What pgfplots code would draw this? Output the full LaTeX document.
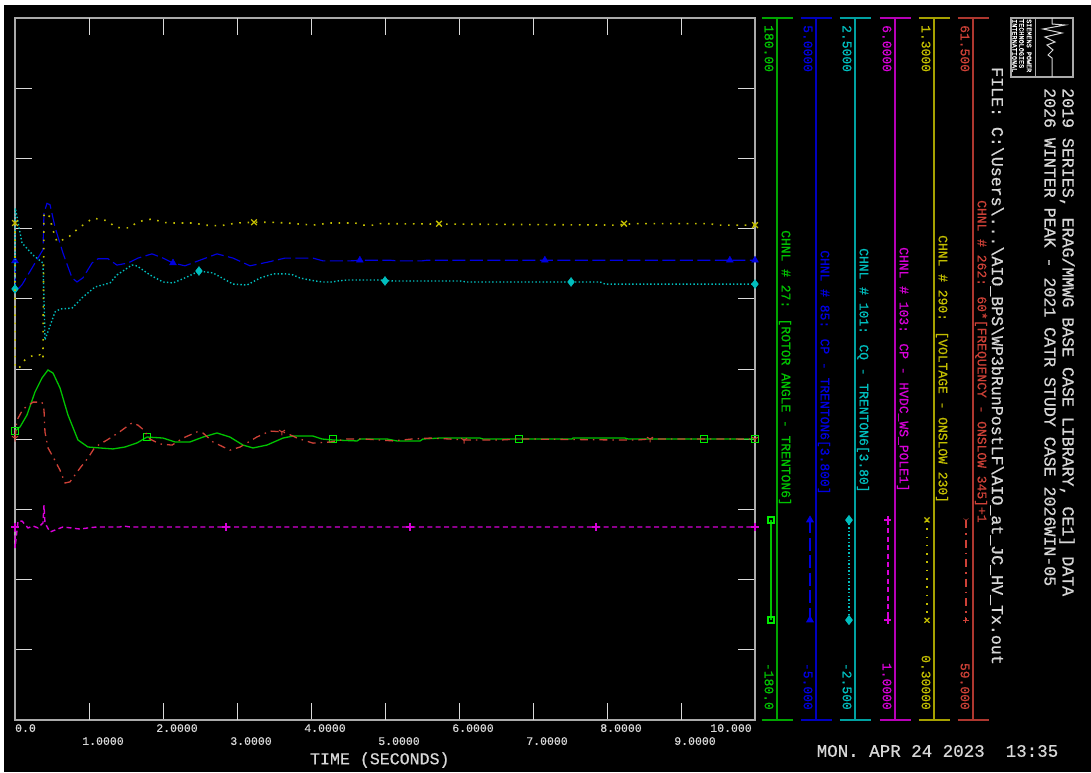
\documentclass[border=0pt]{standalone}
\usepackage{fontspec}
\setmainfont{Liberation Mono}[FakeBold=0.7]
\usepackage{pgfplots}
\pgfplotsset{compat=1.18}
\usetikzlibrary{plotmarks}
\definecolor{gry}{RGB}{170,170,170}
\definecolor{txt}{RGB}{215,215,215}
\definecolor{cgreen}{RGB}{0,195,0}
\definecolor{cbright}{RGB}{0,235,0}
\definecolor{cblue}{RGB}{0,0,225}
\definecolor{ccyan}{RGB}{0,190,190}
\definecolor{cmag}{RGB}{215,0,215}
\definecolor{cyel}{RGB}{195,190,0}
\definecolor{cred}{RGB}{205,65,55}
\pgfplotsset{
  chan/.style={at={(15pt,52pt)},anchor=south west,width=740pt,height=702pt,scale only axis,
    xmin=0,xmax=10,clip=false},
  over/.style={chan,hide axis},
}
\begin{document}
\begin{tikzpicture}[x=1pt,y=1pt]
\useasboundingbox (0,0) rectangle (1091,772);
\fill[white] (0,0) rectangle (1091,772);
\fill[black] (4,0) rectangle (1091,767);

% ---- rotor angle, and the frame of the plot
\begin{axis}[chan,ymin=-180,ymax=180,
  axis line style={gry,line width=1.4pt},
  tick align=inside,
  major tick length=17pt,
  tick style={white!85!black,line width=1pt},
  ytick={-144,-108,-72,-36,0,36,72,108,144},yticklabels={},
  xtick={0,2,4,6,8,10},
  xticklabels={\makebox[0pt]{\hspace*{-7pt}0.0},2.0000,4.0000,6.0000,8.0000,\makebox[0pt]{\hspace*{-76pt}10.000}},
  extra x ticks={1,3,5,7,9},
  extra x tick labels={1.0000,3.0000,5.0000,7.0000,9.0000},
  extra x tick style={xticklabel style={yshift=-13pt}},
  xticklabel style={anchor=north,inner sep=0pt,xshift=14pt,yshift=-4pt,font=\fontsize{11.5}{12}\selectfont,text=txt},
  xlabel={TIME (SECONDS)},
  xlabel style={at={(axis description cs:0.493,-0.057)},anchor=center,inner sep=0pt,font=\fontsize{16.6}{18}\selectfont,text=txt},
]
\addplot[cgreen,line width=1.3pt] coordinates {
(0,-31.8)(.068,-29.7)(.162,-23.6)(.27,-11.8)(.365,-4.6)(.446,-0.5)(.514,-2.1)(.608,-9.7)(.716,-23.6)(.851,-36.4)
(.986,-40)(1.149,-40.5)(1.324,-41)(1.486,-40)(1.649,-37.9)(1.784,-34.9)(2.0,-35.4)(2.162,-37.4)(2.365,-37.4)
(2.541,-34.9)(2.73,-32.8)(2.905,-34.9)(3.081,-39)(3.216,-40.5)(3.405,-39)(3.622,-35.4)(3.757,-34.4)(4.027,-34.4)
(4.149,-35.9)(4.297,-36.4)(4.622,-36.9)(4.662,-35.9)(5.027,-35.9)(5.162,-36.9)(5.473,-36.9)(5.514,-35.9)
(5.743,-35.4)(6.284,-35.4)(6.324,-35.9)(7.527,-35.9)(7.541,-35.4)(8.243,-35.4)(8.284,-35.9)(10,-35.9)};
\addplot[cbright,only marks,mark=square,mark size=3.2pt,line width=1.2pt] coordinates {
(0,-31.8)(1.784,-34.9)(4.297,-35.9)(6.811,-35.9)(9.311,-35.9)(10,-35.9)};
\addplot[cgreen,line width=1.3pt,mark=square,mark size=3pt,mark options={cbright,line width=1.2pt}] coordinates {(10.216,-77.4)(10.216,-128.7)};
\end{axis}

% ---- active power, Trenton
\begin{axis}[over,ymin=-5,ymax=5]
\addplot[cblue,line width=1.15pt,dash pattern=on 13pt off 4.5pt] coordinates {
(0,1.54)(.007,1.10)(.095,1.20)(.378,1.70)(.392,2.22)(.432,2.36)(.473,2.34)(.541,2.02)(.649,1.65)(.770,1.30)
(.838,1.24)(.919,1.30)(1.041,1.51)(1.122,1.57)(1.257,1.57)(1.378,1.48)(1.527,1.51)(1.662,1.58)(1.851,1.64)
(2.0,1.58)(2.135,1.51)(2.297,1.47)(2.5,1.55)(2.73,1.64)(2.946,1.58)(3.176,1.47)(3.405,1.52)(3.649,1.58)
(4.027,1.58)(4.162,1.54)(4.527,1.54)(4.703,1.55)(5.068,1.55)(5.162,1.54)(5.5,1.54)(5.568,1.55)(10,1.55)};
\addplot[cblue,only marks,mark=triangle*,mark size=4pt] coordinates {
(0,1.54)(2.135,1.51)(4.66,1.55)(7.16,1.55)(9.66,1.55)(10,1.55)};
\addplot[cblue,line width=1.15pt,dash pattern=on 13pt off 4.5pt,mark=triangle*,mark size=3.5pt,mark options={solid}] coordinates {(10.743,-2.151)(10.743,-3.576)};
\end{axis}

% ---- reactive power, Trenton
\begin{axis}[over,ymin=-2.5,ymax=2.5]
\addplot[ccyan,line width=1.4pt,dash pattern=on 1.4pt off 2.2pt] coordinates {
(0,.570)(.004,1.147)(.095,.897)(.243,.812)(.378,.755)(.392,.491)(.405,.207)(.541,.406)(.608,.427)(.770,.434)
(.919,.513)(1.081,.584)(1.284,.613)(1.378,.670)(1.581,.741)(1.649,.734)(1.824,.670)(2.0,.620)(2.135,.613)
(2.324,.655)(2.486,.698)(2.676,.684)(2.946,.605)(3.135,.598)(3.311,.648)(3.486,.677)(3.676,.677)(3.757,.670)
(3.851,.648)(4.054,.627)(4.162,.620)(4.297,.620)(4.351,.627)(4.5,.634)(4.932,.634)(5.108,.627)(6.014,.627)
(6.108,.620)(7.905,.620)(7.973,.605)(10,.605)};
\addplot[ccyan,only marks,mark=diamond*,mark size=4.5pt] coordinates {
(0,.570)(2.486,.698)(5.0,.627)(7.514,.620)(10,.605)};
\addplot[ccyan,line width=1.4pt,dash pattern=on 1.4pt off 2.2pt,mark=diamond*,mark size=4pt,mark options={solid}] coordinates {(11.27,-1.076)(11.27,-1.788)};
\end{axis}

% ---- HVDC pole power
\begin{axis}[over,ymin=1,ymax=6]
\addplot[cmag,line width=1.4pt,dash pattern=on 5pt off 3.4pt] coordinates {
(0,2.375)(.001,2.225)(.041,2.417)(.095,2.417)(.176,2.368)(.243,2.382)(.311,2.368)(.378,2.403)(.392,2.531)
(.405,2.403)(.473,2.339)(.541,2.353)(.649,2.375)(.878,2.360)(.986,2.368)(1.108,2.375)(1.419,2.375)(1.459,2.382)
(1.554,2.375)(10,2.375)};
\addplot[cmag,only marks,mark=+,mark size=4pt,line width=1.1pt] coordinates {
(0,2.375)(2.851,2.375)(5.338,2.375)(7.851,2.375)(10,2.375)};
\addplot[cmag,line width=1.4pt,dash pattern=on 5pt off 3.4pt,mark=+,mark size=3.5pt,mark options={solid}] coordinates {(11.797,2.425)(11.797,1.712)};
\end{axis}

% ---- voltage, Onslow 230
\begin{axis}[over,ymin=0.3,ymax=1.3]
\addplot[cyel,line width=1.6pt,dash pattern=on 1.6pt off 6.7pt] coordinates {
(0,1.008)(.001,.801)(.068,.803)(.135,.813)(.27,.821)(.338,.820)(.378,.814)(.392,1.022)(.473,1.017)(.5,1.002)
(.568,.981)(.716,.987)(.784,.994)(.878,1.002)(.973,1.009)(1.054,1.015)(1.257,1.011)(1.351,1.002)(1.446,1.001)
(1.554,1.001)(1.622,1.007)(1.716,1.011)(1.865,1.014)(1.986,1.009)(2.095,1.008)(2.432,1.008)(2.541,1.005)
(2.770,1.004)(3.0,1.008)(3.216,1.009)(3.446,1.009)(3.676,1.008)(3.784,1.007)(4.027,1.005)(4.257,1.008)
(4.595,1.008)(4.703,1.005)(4.838,1.005)(4.932,1.007)(8.135,1.005)(8.351,1.007)(9.392,1.007)(9.486,1.005)(10,1.005)};
\addplot[cyel,only marks,mark=x,mark size=4pt,line width=1.3pt] coordinates {
(0,1.008)(3.23,1.009)(5.73,1.007)(8.23,1.007)(10,1.005)};
\addplot[cyel,line width=1.6pt,dash pattern=on 1.6pt off 6.7pt,mark=x,mark size=3.5pt,mark options={solid,line width=1.2pt}] coordinates {(12.324,.585)(12.324,.442)};
\end{axis}

% ---- frequency, Onslow 345
\begin{axis}[over,ymin=59,ymax=61.5]
\addplot[cred,line width=1.3pt,dash pattern=on 8pt off 5pt on 1.5pt off 5pt] coordinates {
(0,60.004)(.027,60.068)(.108,60.107)(.243,60.132)(.365,60.132)(.392,60.104)(.405,60.026)(.446,59.969)(.514,59.937)
(.608,59.890)(.676,59.844)(.743,59.848)(.878,59.897)(.986,59.933)(1.081,59.972)(1.243,59.997)(1.392,60.022)
(1.486,60.040)(1.581,60.058)(1.662,60.050)(1.757,60.029)(1.797,60.004)(1.959,59.983)(2.122,59.979)(2.27,60.004)
(2.459,60.026)(2.541,60.022)(2.676,59.990)(2.905,59.961)(3.041,59.972)(3.270,60.008)(3.446,60.029)(3.622,60.026)
(3.757,60.011)(3.811,60.004)(4.027,59.986)(4.257,59.990)(4.486,60.001)(4.703,60.001)(4.932,59.997)(5.108,59.994)
(5.378,60.001)(5.608,60.004)(5.851,60.001)(6.081,59.997)(6.324,59.997)(6.554,59.997)(6.824,60.001)(8.176,59.997)
(8.405,59.997)(8.581,60.001)(10,60.001)};
\addplot[cred,only marks,mark=Mercedes star flipped,mark size=3.5pt,line width=1pt] coordinates {
(0,60.004)(3.608,60.026)(6.068,59.997)(8.581,60.001)(10,60.001)};
\addplot[cred,line width=1.3pt,dash pattern=on 8pt off 5pt on 1.5pt off 5pt] coordinates {(12.851,59.712)(12.851,59.356)};
\addplot[cred,only marks,mark=Mercedes star flipped,mark size=3pt] coordinates {(12.851,59.712)};
\addplot[cred,only marks,mark=+,mark size=3pt,line width=1pt] coordinates {(12.851,59.356)};
\end{axis}

% ---- scale bars, captions and headings
\begin{scope}[shift={(0,772)},y=-1pt,
  lab/.style={inner sep=0pt,rotate=-90,font=\fontsize{13}{14}\selectfont}]
\foreach \x/\c/\t/\b/\n/\s in {
  777/cgreen/180.00/-180.0/{CHNL \# 27: [ROTOR ANGLE - TRENTON6]}/230,
  816/cblue/5.0000/-5.000/{CHNL \# 85: CP - TRENTON6[3.800]}/250,
  855/ccyan/2.5000/-2.500/{CHNL \# 101: CQ - TRENTON6[3.80]}/248,
  895/cmag/6.0000/1.0000/{CHNL \# 103: CP - HVDC\_WS\_POLE1]}/247,
  934/cyel/1.3000/0.30000/{CHNL \# 290: [VOLTAGE - ONSLOW 230]}/235,
  973/cred/61.500/59.000/{CHNL \# 262: 60*[FREQUENCY - ONSLOW 345]+1}/200}
{
  \draw[\c!85!black,line width=1.2pt] (\x,18) -- (\x,720);
  \draw[\c!85!black,line width=1.2pt] (\x-15.5,18) -- (\x+15.5,18);
  \draw[\c!85!black,line width=1.2pt] (\x-15.5,720) -- (\x+15.5,720);
  \node[lab,anchor=west,text=\c] at (\x-8,25) {\t};
  \node[lab,anchor=east,text=\c] at (\x-8,710) {\b};
  \node[lab,anchor=west,text=\c] at (\x+8,\s) {\n};
}
\node[inner sep=0pt,rotate=-90,anchor=west,text=txt,font=\fontsize{16.6}{18}\selectfont] at (1067,88) {2019 SERIES, ERAG/MMWG BASE CASE LIBRARY, CE1] DATA};
\node[inner sep=0pt,rotate=-90,anchor=west,text=txt,font=\fontsize{16.6}{18}\selectfont] at (1050,88) {2026 WINTER PEAK - 2021 CATR STUDY CASE 2026WIN-05};
\node[inner sep=0pt,rotate=-90,anchor=west,text=txt,font=\fontsize{16.6}{18}\selectfont] at (997,67) {FILE: C:\textbackslash Users\textbackslash ...\textbackslash AIO\_BPS\textbackslash WP3bRunPostLF\textbackslash AIO\_at\_JC\_HV\_Tx.out};
\node[inner sep=0pt,anchor=center,text=txt,font=\fontsize{17.5}{19}\selectfont] at (937.5,751) {MON. APR 24 2023\ \ 13:35};
% logo
\draw[gry,line width=1.2pt] (1011,18) rectangle (1073,77);
\draw[gry,line width=1pt] (1035,18) -- (1035,77);
\draw[txt,line width=1pt] (1052,18) -- (1052,24) -- (1065,25) -- (1043,29) -- (1062,33) -- (1045,37) -- (1055,42) -- (1047,45) -- (1053,50) -- (1048,55) -- (1052,58) -- (1052,77);
\foreach \x/\t in {1029/SIEMENS POWER,1021.5/TECHNOLOGIES,1014.5/INTERNATIONAL}
  \node[inner sep=0pt,rotate=-90,anchor=west,text=white,font=\fontsize{6.8}{7}\selectfont] at (\x,19) {\t};
\end{scope}
\end{tikzpicture}
\end{document}
